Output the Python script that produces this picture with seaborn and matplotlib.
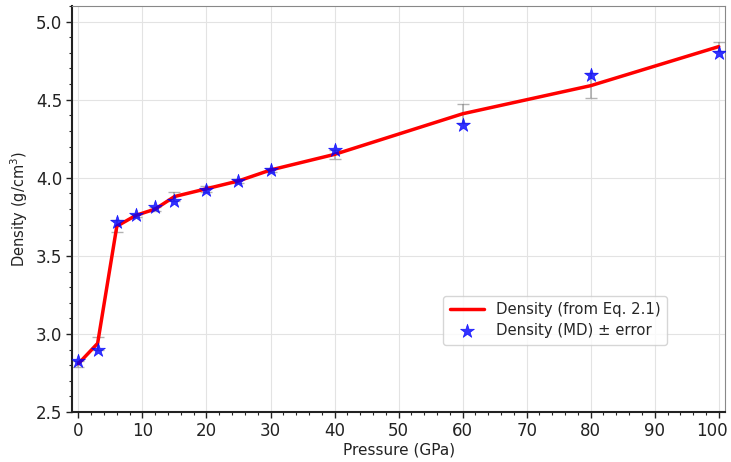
import matplotlib
matplotlib.use("Agg")
import matplotlib.pyplot as plt
import matplotlib.transforms as mtransforms
import seaborn as sns
import numpy as np
import pandas as pd
from matplotlib.ticker import MultipleLocator

pressure = [0, 3, 6, 9, 12, 15, 20, 25, 30, 40, 60, 80, 100]
density_eq = [2.81, 2.94, 3.69, 3.76, 3.80, 3.88, 3.93, 3.98, 4.05, 4.15, 4.41, 4.59, 4.84]
density_md = [2.83, 2.90, 3.72, 3.76, 3.81, 3.85, 3.92, 3.98, 4.05, 4.18, 4.335, 4.66, 4.80]
error = [0.02, 0.04, 0.04, 0.01, 0.01, 0.03, 0.02, 0.01, 0.01, 0.03, 0.06, 0.08, 0.03]

df = pd.DataFrame({"P": pressure, "eq": density_eq, "md": density_md, "err": error})

sns.set_style("white")
plt.rcParams['font.family'] = ['DejaVu Sans']

fig = plt.figure(figsize=(7.31, 4.62), dpi=100)
ax = fig.add_axes([0.0985, 0.108, 0.8935, 0.879])

ax.grid(True, color="#e3e3e3", linewidth=0.8, zorder=0)
ax.set_axisbelow(True)

ax.errorbar(df["P"], df["eq"], yerr=df["err"], fmt="none", ecolor="grey",
            alpha=0.6, capsize=4, elinewidth=1.2, zorder=2)
sns.lineplot(data=df, x="P", y="eq", ax=ax, color="red", linewidth=2.5,
             label="Density (from Eq. 2.1)", zorder=3)
sns.scatterplot(data=df, x="P", y="md", ax=ax, marker="*", s=110, color="blue",
                alpha=0.8, edgecolor="blue", linewidth=0.5,
                label="Density (MD) ± error", zorder=4)

ax.set_xlim(-1, 101)
ax.set_ylim(2.5, 5.1)
ax.xaxis.set_major_locator(MultipleLocator(10))
ax.xaxis.set_minor_locator(MultipleLocator(2))
ax.yaxis.set_major_locator(MultipleLocator(0.5))
ax.yaxis.set_minor_locator(MultipleLocator(0.1))
ax.tick_params(which="major", direction="out", length=4, width=1, left=True, bottom=True,
               labelsize=12, colors="#222222", pad=3)
ax.tick_params(which="minor", direction="out", length=2, width=0.8, left=True, bottom=True)

for s in ["left", "bottom"]:
    ax.spines[s].set_color("#222222")
    ax.spines[s].set_linewidth(1.5)
for s in ["top", "right"]:
    ax.spines[s].set_color("#888888")
    ax.spines[s].set_linewidth(0.8)

ax.set_xlabel("Pressure (GPa)", fontsize=11, color="#222222", labelpad=2)
ax.set_ylabel("Density (g/cm$^3$)", fontsize=10.5, color="#222222", labelpad=4)

ax.legend(loc="upper left", bbox_to_anchor=(0.557, 0.305), fontsize=10.7,
          frameon=True, framealpha=0.8, edgecolor="#cccccc", handlelength=2.3,
          borderpad=0.45, labelspacing=0.4)

# keep the last x tick label inside the canvas
fig.canvas.draw()
for tick in ax.xaxis.get_major_ticks():
    if tick.label1.get_text() == "100":
        tick.label1.set_horizontalalignment("right")
        tick.label1.set_transform(tick.label1.get_transform() +
                                  mtransforms.ScaledTranslation(6.8/72, 0, fig.dpi_scale_trans))

fig.savefig("out.png", dpi=100)
